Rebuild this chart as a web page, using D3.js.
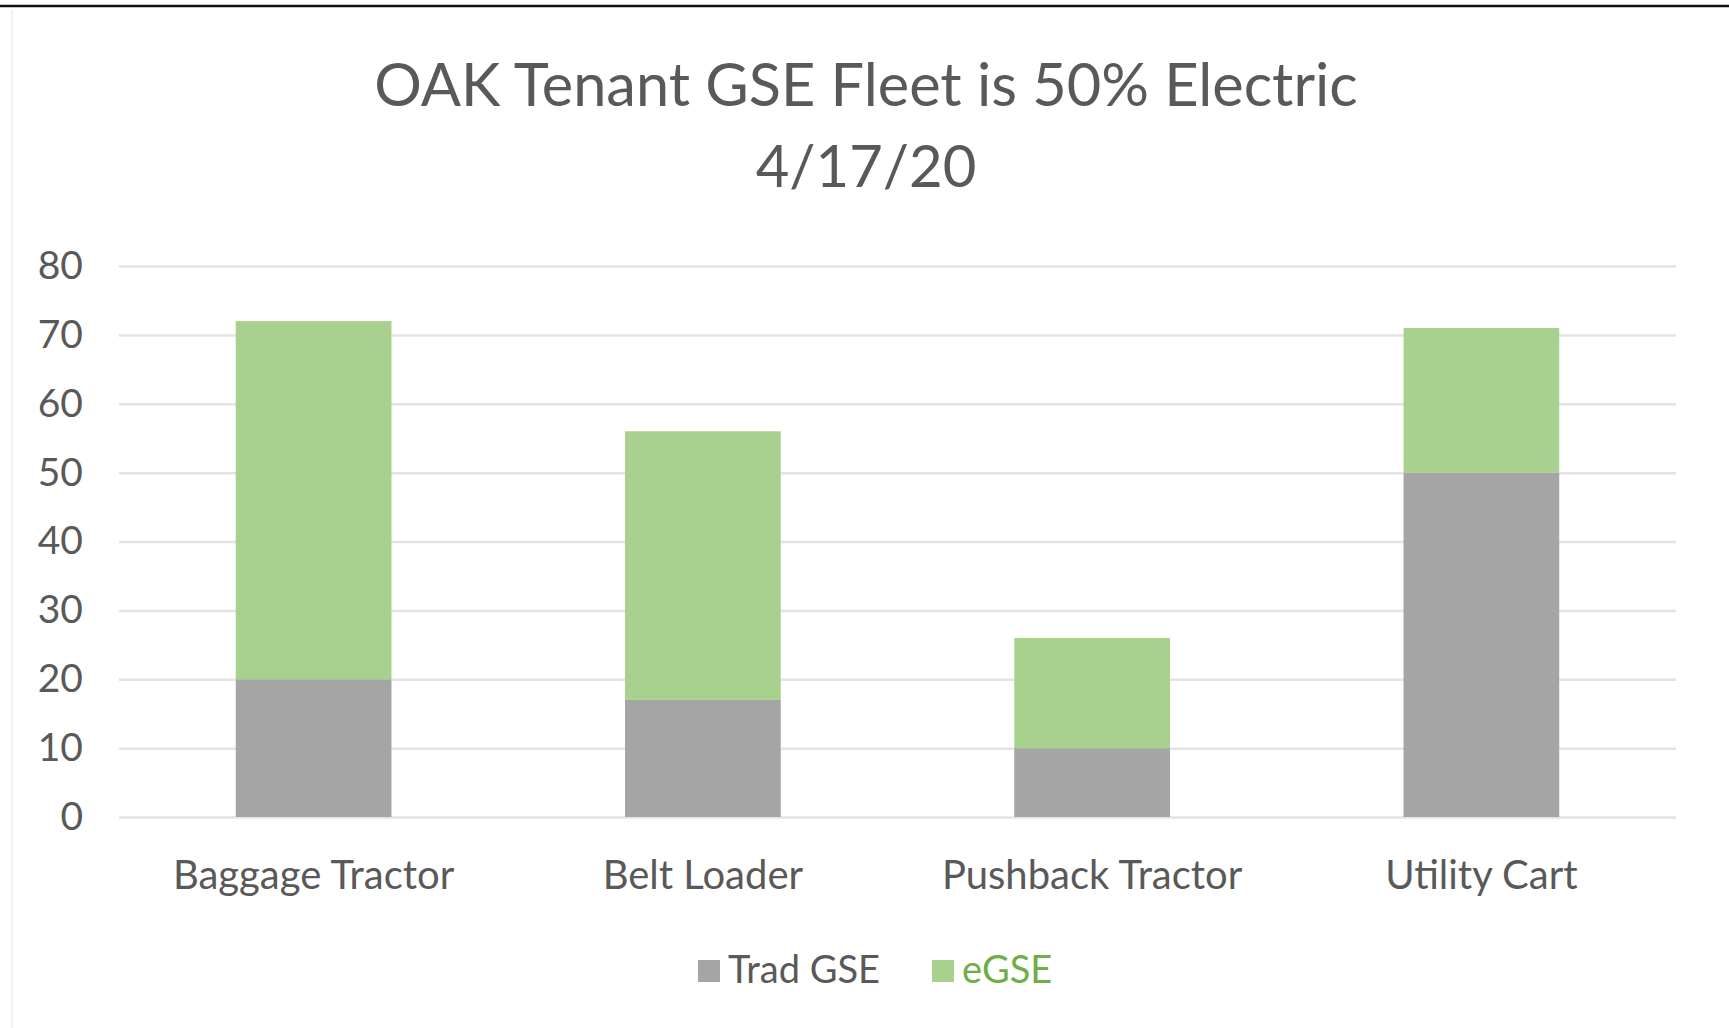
<!DOCTYPE html>
<html lang="en">
<head>
<meta charset="UTF-8">
<title>OAK Tenant GSE Fleet</title>
<script src="https://cdn.jsdelivr.net/npm/d3@7"></script>
<style>
  html, body { margin: 0; padding: 0; background: #fff; }
  text { font-family: Lato, "Open Sans", sans-serif; }
</style>
</head>
<body>
<script>

var width = 1729,
    height = 1028

// chart values
var categories = ["Baggage Tractor", "Belt Loader", "Pushback Tractor", "Utility Cart"]
var seriesNames = ["Trad GSE", "eGSE"]
var tradGSE = [20, 17, 10, 50]
var eGSE = [52, 39, 16, 21]
var yTicks = [0, 10, 20, 30, 40, 50, 60, 70, 80]
var titleLines = ["OAK Tenant GSE Fleet is 50% Electric", "4/17/20"]

var colors = { "Trad GSE": "#a5a5a5", "eGSE": "#a9d18e" }
var legendText = { "Trad GSE": "#595959", "eGSE": "#70ad47" }

var plot = { left: 119, right: 1676, top: 266, bottom: 817 }

var svg = d3.select("body").append("svg")
    .attr("width", width)
    .attr("height", height)

// page frame: black rule at top, faint left edge
svg.append("line")
    .attr("x1", 0).attr("x2", width).attr("y1", 6).attr("y2", 6)
    .attr("stroke", "#111").attr("stroke-width", 2.5)
svg.append("line")
    .attr("x1", 12).attr("x2", 12).attr("y1", 10).attr("y2", height)
    .attr("stroke", "#eeeeee").attr("stroke-width", 1.5)

var x = d3.scaleBand()
    .domain(categories)
    .range([plot.left, plot.right])
    .paddingInner(0.6)
    .paddingOuter(0.3)

var y = d3.scaleLinear()
    .domain([0, 80])
    .range([plot.bottom, plot.top])

// gridlines + y labels
var yAxis = d3.axisLeft(y)
    .tickValues(yTicks)
    .tickSize(-(plot.right - plot.left))
    .tickPadding(36)

var gy = svg.append("g")
    .attr("transform", "translate(" + plot.left + ",0)")
    .call(yAxis)
gy.select(".domain").remove()
gy.selectAll(".tick line").attr("stroke", "#e3e3e3").attr("stroke-width", 2.5)
gy.selectAll(".tick text")
    .attr("fill", "#595959")
    .style("font-size", "39px")
    .style("font-family", "Lato, sans-serif")

// stacked bars
var rows = categories.map(function(c, i) {
  return { category: c, "Trad GSE": tradGSE[i], "eGSE": eGSE[i] }
})
var stacked = d3.stack().keys(seriesNames)(rows)

svg.append("g").selectAll("g")
  .data(stacked).enter()
  .append("g")
    .attr("fill", function(d) { return colors[d.key] })
  .selectAll("rect")
  .data(function(d) { return d }).enter()
  .append("rect")
    .attr("x", function(d) { return x(d.data.category) })
    .attr("width", x.bandwidth())
    .attr("y", function(d) { return y(d[1]) })
    .attr("height", function(d) { return y(d[0]) - y(d[1]) })

// category labels
svg.append("g").selectAll("text")
  .data(categories).enter()
  .append("text")
    .attr("x", function(d) { return x(d) + x.bandwidth() / 2 })
    .attr("y", 889)
    .attr("text-anchor", "middle")
    .attr("fill", "#595959")
    .style("font-size", "40px")
    .text(function(d) { return d })

// title
svg.append("g").selectAll("text")
  .data(titleLines).enter()
  .append("text")
    .attr("x", 866)
    .attr("y", function(d, i) { return 106 + i * 81 })
    .attr("text-anchor", "middle")
    .attr("fill", "#595959")
    .style("font-size", function(d, i) { return i === 0 ? "59.5px" : "58px" })
    .text(function(d) { return d })

// legend
var legend = svg.append("g").attr("transform", "translate(698,960)")
var legendX = [0, 234]
var item = legend.selectAll("g")
  .data(seriesNames).enter()
  .append("g")
    .attr("transform", function(d, i) { return "translate(" + legendX[i] + ",0)" })
item.append("rect")
    .attr("width", 22).attr("height", 22)
    .attr("fill", function(d) { return colors[d] })
item.append("text")
    .attr("x", 30).attr("y", 23)
    .attr("fill", function(d) { return legendText[d] })
    .style("font-size", "38px")
    .text(function(d) { return d })

</script>
</body>
</html>
